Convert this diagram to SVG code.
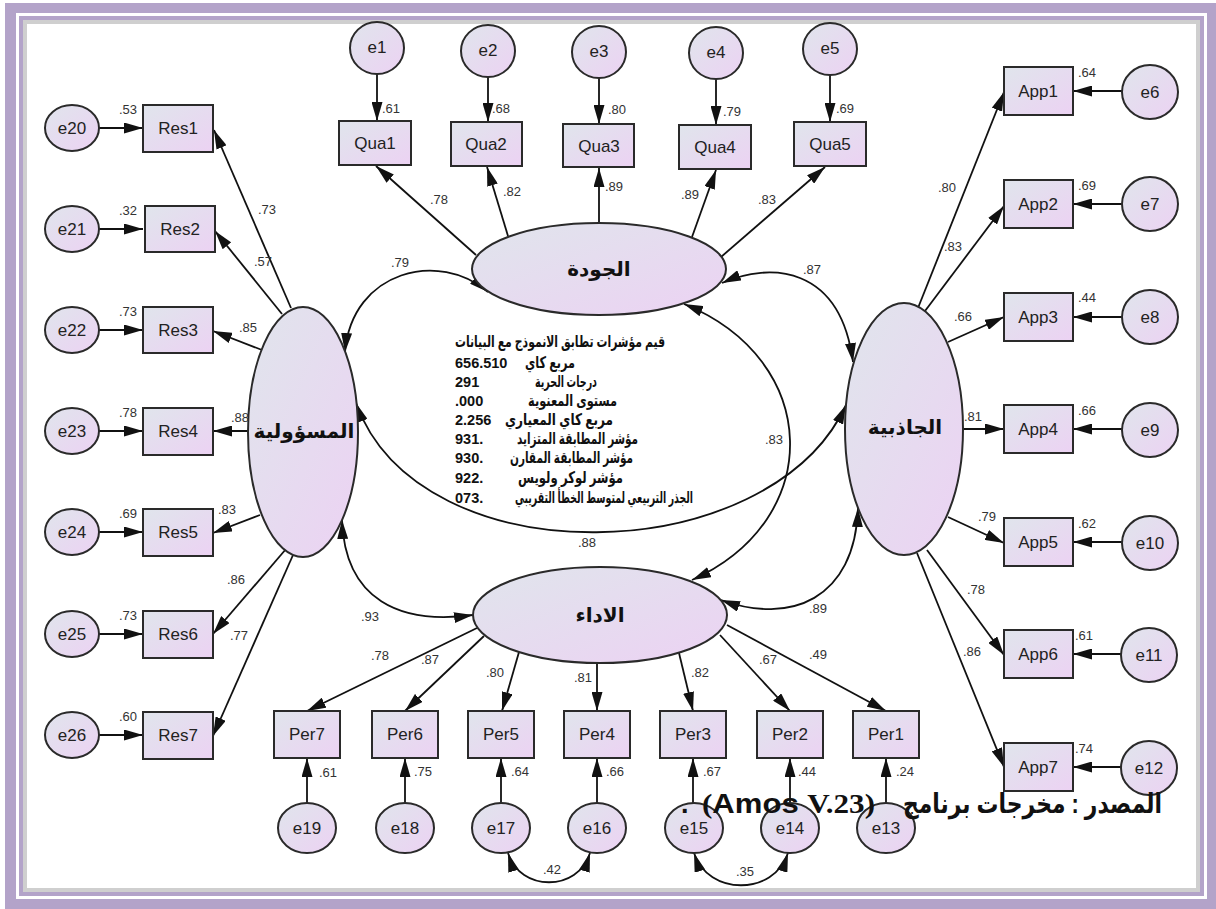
<svg xmlns="http://www.w3.org/2000/svg" width="1216" height="909" viewBox="0 0 1216 909">
<defs>
<linearGradient id="g" x1="0" y1="0" x2="1" y2="1">
<stop offset="0" stop-color="#e0e5ec"/>
<stop offset="1" stop-color="#ecd2f3"/>
</linearGradient>
<marker id="ah" viewBox="0 0 19 11" refX="19" refY="5.5" markerWidth="19" markerHeight="11" markerUnits="userSpaceOnUse" orient="auto-start-reverse">
<path d="M0,0 L19,5.5 L0,11 z" fill="#111"/>
</marker>
<style>
.n{fill:url(#g);stroke:#2a2a2a;stroke-width:2}
.t{font-family:"Liberation Sans",Arial,sans-serif;font-size:17px;fill:#222;text-anchor:middle;dominant-baseline:central}
.v{font-family:"Liberation Sans",Arial,sans-serif;font-size:13px;fill:#333;text-anchor:middle}
.l{fill:none;stroke:#111;stroke-width:1.8;marker-end:url(#ah)}
.c{fill:none;stroke:#111;stroke-width:1.8;marker-start:url(#ah);marker-end:url(#ah)}
.ar{font-family:"Liberation Sans","DejaVu Sans",sans-serif;font-weight:bold;fill:#111}
.fi{font-family:"Liberation Sans","DejaVu Sans",sans-serif;font-weight:bold;fill:#111;font-size:16px}
.num{font-family:"Liberation Sans",Arial,sans-serif;font-weight:bold;font-size:14.5px;fill:#111}
</style>
</defs>

<!-- frame -->
<g id="frame">
<rect x="0" y="0" width="1216" height="909" fill="#ffffff"/>
<rect x="5" y="3" width="1211" height="906" fill="#b3a3c9"/>
<rect x="16" y="13" width="1191" height="886" fill="#ffffff"/>
<rect x="19" y="16" width="1185" height="880" fill="#b3a3c9"/>
<rect x="23" y="20" width="1177" height="872" fill="#ffffff"/>
<rect x="25" y="22" width="1173" height="868" fill="none" stroke="#cfcfcf" stroke-width="4"/>
</g>

<!-- connectors -->
<g id="connectors">
<!-- quality -->
<line class="l" x1="377" y1="74" x2="377" y2="121"/>
<line class="l" x1="488" y1="77" x2="488" y2="122"/>
<line class="l" x1="599" y1="78" x2="599" y2="124"/>
<line class="l" x1="716" y1="79" x2="716" y2="125"/>
<line class="l" x1="830" y1="75" x2="830" y2="122"/>
<line class="l" x1="476" y1="255" x2="376" y2="166"/>
<line class="l" x1="508" y1="236" x2="487" y2="167"/>
<line class="l" x1="599" y1="223" x2="599" y2="168"/>
<line class="l" x1="692" y1="237" x2="716" y2="170"/>
<line class="l" x1="721" y1="257" x2="825" y2="167"/>
<!-- responsibility -->
<line class="l" x1="99" y1="128" x2="143" y2="128"/>
<line class="l" x1="99" y1="229" x2="143" y2="229"/>
<line class="l" x1="99" y1="330" x2="143" y2="330"/>
<line class="l" x1="99" y1="431" x2="143" y2="431"/>
<line class="l" x1="99" y1="532" x2="143" y2="532"/>
<line class="l" x1="99" y1="634" x2="143" y2="634"/>
<line class="l" x1="99" y1="735" x2="143" y2="735"/>
<line class="l" x1="291" y1="308" x2="214" y2="130"/>
<line class="l" x1="282" y1="314" x2="215" y2="231"/>
<line class="l" x1="262" y1="350" x2="213" y2="331"/>
<line class="l" x1="248" y1="431" x2="213" y2="431"/>
<line class="l" x1="260" y1="515" x2="213" y2="533"/>
<line class="l" x1="286" y1="549" x2="213" y2="634"/>
<line class="l" x1="293" y1="555" x2="213" y2="736"/>
<!-- appeal -->
<line class="l" x1="1122" y1="91" x2="1073" y2="91"/>
<line class="l" x1="1122" y1="204" x2="1073" y2="204"/>
<line class="l" x1="1122" y1="317" x2="1073" y2="317"/>
<line class="l" x1="1122" y1="429" x2="1073" y2="429"/>
<line class="l" x1="1122" y1="542" x2="1073" y2="542"/>
<line class="l" x1="1121" y1="654" x2="1073" y2="654"/>
<line class="l" x1="1121" y1="767" x2="1073" y2="767"/>
<line class="l" x1="918" y1="308" x2="1004" y2="92"/>
<line class="l" x1="925" y1="311" x2="1004" y2="206"/>
<line class="l" x1="948" y1="342" x2="1004" y2="317"/>
<line class="l" x1="963" y1="429" x2="1004" y2="429"/>
<line class="l" x1="948" y1="517" x2="1004" y2="543"/>
<line class="l" x1="927" y1="550" x2="1004" y2="655"/>
<line class="l" x1="917" y1="553" x2="1004" y2="767"/>
<!-- performance -->
<line class="l" x1="307" y1="803" x2="307" y2="758"/>
<line class="l" x1="405" y1="803" x2="405" y2="758"/>
<line class="l" x1="501" y1="803" x2="501" y2="758"/>
<line class="l" x1="597" y1="803" x2="597" y2="758"/>
<line class="l" x1="693" y1="803" x2="693" y2="758"/>
<line class="l" x1="790" y1="803" x2="790" y2="758"/>
<line class="l" x1="886" y1="803" x2="886" y2="758"/>
<line class="l" x1="477" y1="628" x2="307" y2="711"/>
<line class="l" x1="484" y1="636" x2="405" y2="711"/>
<line class="l" x1="519" y1="652" x2="502" y2="711"/>
<line class="l" x1="597" y1="663" x2="597" y2="711"/>
<line class="l" x1="679" y1="653" x2="693" y2="711"/>
<line class="l" x1="720" y1="635" x2="790" y2="711"/>
<line class="l" x1="727" y1="625" x2="886" y2="711"/>
<!-- covariances -->
<path class="c" d="M345,352 C352,270 440,250 488,292"/>
<path class="c" d="M722,283 C770,262 840,265 853,362"/>
<path class="c" d="M684,304 C822,360 826,520 692,580"/>
<path class="c" d="M356,403 C420,580 770,570 846,405"/>
<path class="c" d="M342,520 C345,600 400,625 473,615"/>
<path class="c" d="M721,600 C790,625 855,600 858,508"/>
<path class="c" d="M508,853 C520,892 578,892 590,853"/>
<path class="c" d="M694,853 C708,896 774,896 788,853"/>
</g>

<!-- latent variables -->
<g id="Quality"><ellipse class="n" cx="599" cy="269" rx="127" ry="46"/><text class="ar" x="599" y="276" font-size="20" text-anchor="middle">الجودة</text></g>
<g id="Responsibility"><ellipse class="n" cx="303" cy="432" rx="55" ry="125"/><text class="ar" x="304" y="438" font-size="20" text-anchor="middle">المسؤولية</text></g>
<g id="Appeal"><ellipse class="n" cx="904" cy="429" rx="59" ry="126"/><text class="ar" x="905" y="434" font-size="20" text-anchor="middle">الجاذبية</text></g>
<g id="Performance"><ellipse class="n" cx="600" cy="615" rx="127" ry="48"/><text class="ar" x="600" y="622" font-size="20" text-anchor="middle">الاداء</text></g>

<!-- quality indicators -->
<g id="Qua1"><rect class="n" x="339" y="121" width="72" height="44"/><text class="t" x="375" y="143">Qua1</text></g>
<g id="Qua2"><rect class="n" x="451" y="122" width="71" height="44"/><text class="t" x="486" y="144">Qua2</text></g>
<g id="Qua3"><rect class="n" x="563" y="124" width="71" height="43"/><text class="t" x="599" y="146">Qua3</text></g>
<g id="Qua4"><rect class="n" x="679" y="125" width="72" height="44"/><text class="t" x="715" y="147">Qua4</text></g>
<g id="Qua5"><rect class="n" x="794" y="122" width="72" height="44"/><text class="t" x="830" y="144">Qua5</text></g>
<g id="e1"><ellipse class="n" cx="377" cy="48" rx="27" ry="26"/><text class="t" x="377" y="47">e1</text></g>
<g id="e2"><ellipse class="n" cx="488" cy="51" rx="27" ry="26"/><text class="t" x="488" y="50">e2</text></g>
<g id="e3"><ellipse class="n" cx="599" cy="52" rx="27" ry="26"/><text class="t" x="599" y="51">e3</text></g>
<g id="e4"><ellipse class="n" cx="716" cy="53" rx="27" ry="26"/><text class="t" x="716" y="52">e4</text></g>
<g id="e5"><ellipse class="n" cx="830" cy="49" rx="27" ry="26"/><text class="t" x="830" y="48">e5</text></g>

<!-- responsibility indicators -->
<g id="Res1"><rect class="n" x="143" y="105" width="70" height="47"/><text class="t" x="178" y="128">Res1</text></g>
<g id="Res2"><rect class="n" x="145" y="206" width="70" height="46"/><text class="t" x="180" y="229">Res2</text></g>
<g id="Res3"><rect class="n" x="143" y="307" width="70" height="46"/><text class="t" x="178" y="330">Res3</text></g>
<g id="Res4"><rect class="n" x="143" y="408" width="70" height="47"/><text class="t" x="178" y="431">Res4</text></g>
<g id="Res5"><rect class="n" x="143" y="509" width="70" height="47"/><text class="t" x="178" y="532">Res5</text></g>
<g id="Res6"><rect class="n" x="143" y="611" width="70" height="47"/><text class="t" x="178" y="634">Res6</text></g>
<g id="Res7"><rect class="n" x="143" y="712" width="70" height="47"/><text class="t" x="178" y="735">Res7</text></g>
<g id="e20"><ellipse class="n" cx="72" cy="128" rx="27" ry="23"/><text class="t" x="72" y="128">e20</text></g>
<g id="e21"><ellipse class="n" cx="72" cy="229" rx="27" ry="23"/><text class="t" x="72" y="229">e21</text></g>
<g id="e22"><ellipse class="n" cx="72" cy="330" rx="27" ry="23"/><text class="t" x="72" y="330">e22</text></g>
<g id="e23"><ellipse class="n" cx="72" cy="431" rx="27" ry="23"/><text class="t" x="72" y="431">e23</text></g>
<g id="e24"><ellipse class="n" cx="72" cy="532" rx="27" ry="23"/><text class="t" x="72" y="532">e24</text></g>
<g id="e25"><ellipse class="n" cx="72" cy="634" rx="27" ry="23"/><text class="t" x="72" y="634">e25</text></g>
<g id="e26"><ellipse class="n" cx="72" cy="735" rx="27" ry="23"/><text class="t" x="72" y="735">e26</text></g>

<!-- appeal indicators -->
<g id="App1"><rect class="n" x="1004" y="67" width="69" height="48"/><text class="t" x="1038" y="91">App1</text></g>
<g id="App2"><rect class="n" x="1004" y="180" width="69" height="48"/><text class="t" x="1038" y="204">App2</text></g>
<g id="App3"><rect class="n" x="1004" y="293" width="69" height="48"/><text class="t" x="1038" y="317">App3</text></g>
<g id="App4"><rect class="n" x="1004" y="405" width="69" height="48"/><text class="t" x="1038" y="429">App4</text></g>
<g id="App5"><rect class="n" x="1004" y="518" width="69" height="48"/><text class="t" x="1038" y="542">App5</text></g>
<g id="App6"><rect class="n" x="1004" y="630" width="69" height="48"/><text class="t" x="1038" y="654">App6</text></g>
<g id="App7"><rect class="n" x="1004" y="743" width="69" height="48"/><text class="t" x="1038" y="767">App7</text></g>
<g id="e6"><ellipse class="n" cx="1150" cy="92" rx="28" ry="27"/><text class="t" x="1150" y="92">e6</text></g>
<g id="e7"><ellipse class="n" cx="1150" cy="204" rx="28" ry="27"/><text class="t" x="1150" y="204">e7</text></g>
<g id="e8"><ellipse class="n" cx="1150" cy="317" rx="28" ry="27"/><text class="t" x="1150" y="317">e8</text></g>
<g id="e9"><ellipse class="n" cx="1150" cy="430" rx="28" ry="27"/><text class="t" x="1150" y="430">e9</text></g>
<g id="e10"><ellipse class="n" cx="1150" cy="543" rx="28" ry="27"/><text class="t" x="1150" y="543">e10</text></g>
<g id="e11"><ellipse class="n" cx="1149" cy="655" rx="28" ry="27"/><text class="t" x="1149" y="655">e11</text></g>
<g id="e12"><ellipse class="n" cx="1149" cy="768" rx="28" ry="27"/><text class="t" x="1149" y="768">e12</text></g>

<!-- performance indicators -->
<g id="Per7"><rect class="n" x="274" y="711" width="66" height="47"/><text class="t" x="307" y="734">Per7</text></g>
<g id="Per6"><rect class="n" x="372" y="711" width="66" height="47"/><text class="t" x="405" y="734">Per6</text></g>
<g id="Per5"><rect class="n" x="468" y="711" width="66" height="47"/><text class="t" x="501" y="734">Per5</text></g>
<g id="Per4"><rect class="n" x="564" y="711" width="66" height="47"/><text class="t" x="597" y="734">Per4</text></g>
<g id="Per3"><rect class="n" x="660" y="711" width="66" height="47"/><text class="t" x="693" y="734">Per3</text></g>
<g id="Per2"><rect class="n" x="757" y="711" width="66" height="47"/><text class="t" x="790" y="734">Per2</text></g>
<g id="Per1"><rect class="n" x="853" y="711" width="66" height="47"/><text class="t" x="886" y="734">Per1</text></g>
<g id="e19"><ellipse class="n" cx="307" cy="828" rx="29" ry="25"/><text class="t" x="307" y="828">e19</text></g>
<g id="e18"><ellipse class="n" cx="405" cy="828" rx="29" ry="25"/><text class="t" x="405" y="828">e18</text></g>
<g id="e17"><ellipse class="n" cx="501" cy="828" rx="29" ry="25"/><text class="t" x="501" y="828">e17</text></g>
<g id="e16"><ellipse class="n" cx="597" cy="828" rx="29" ry="25"/><text class="t" x="597" y="828">e16</text></g>
<g id="e15"><ellipse class="n" cx="694" cy="828" rx="29" ry="25"/><text class="t" x="694" y="828">e15</text></g>
<g id="e14"><ellipse class="n" cx="790" cy="828" rx="29" ry="25"/><text class="t" x="790" y="828">e14</text></g>
<g id="e13"><ellipse class="n" cx="886" cy="828" rx="29" ry="25"/><text class="t" x="886" y="828">e13</text></g>

<!-- estimates -->
<g id="estimates">
<text class="v" x="391" y="113">.61</text>
<text class="v" x="501" y="113">.68</text>
<text class="v" x="617" y="114">.80</text>
<text class="v" x="732" y="116">.79</text>
<text class="v" x="845" y="113">.69</text>
<text class="v" x="439" y="204">.78</text>
<text class="v" x="512" y="196">.82</text>
<text class="v" x="614" y="191">.89</text>
<text class="v" x="690" y="199">.89</text>
<text class="v" x="767" y="204">.83</text>
<text class="v" x="400" y="267">.79</text>
<text class="v" x="812" y="274">.87</text>
<text class="v" x="774" y="444">.83</text>
<text class="v" x="587" y="547">.88</text>
<text class="v" x="370" y="621">.93</text>
<text class="v" x="818" y="613">.89</text>
<text class="v" x="552" y="874">.42</text>
<text class="v" x="745" y="876">.35</text>
<text class="v" x="267" y="214">.73</text>
<text class="v" x="263" y="266">.57</text>
<text class="v" x="248" y="332">.85</text>
<text class="v" x="240" y="422">.88</text>
<text class="v" x="227" y="514">.83</text>
<text class="v" x="236" y="584">.86</text>
<text class="v" x="239" y="640">.77</text>
<text class="v" x="128" y="114">.53</text>
<text class="v" x="128" y="215">.32</text>
<text class="v" x="128" y="316">.73</text>
<text class="v" x="128" y="417">.78</text>
<text class="v" x="128" y="518">.69</text>
<text class="v" x="128" y="620">.73</text>
<text class="v" x="128" y="721">.60</text>
<text class="v" x="947" y="192">.80</text>
<text class="v" x="953" y="251">.83</text>
<text class="v" x="963" y="321">.66</text>
<text class="v" x="973" y="421">.81</text>
<text class="v" x="987" y="521">.79</text>
<text class="v" x="976" y="594">.78</text>
<text class="v" x="972" y="656">.86</text>
<text class="v" x="1087" y="77">.64</text>
<text class="v" x="1087" y="190">.69</text>
<text class="v" x="1087" y="302">.44</text>
<text class="v" x="1087" y="415">.66</text>
<text class="v" x="1087" y="528">.62</text>
<text class="v" x="1084" y="640">.61</text>
<text class="v" x="1084" y="753">.74</text>
<text class="v" x="380" y="660">.78</text>
<text class="v" x="430" y="664">.87</text>
<text class="v" x="495" y="677">.80</text>
<text class="v" x="583" y="682">.81</text>
<text class="v" x="700" y="677">.82</text>
<text class="v" x="768" y="664">.67</text>
<text class="v" x="818" y="659">.49</text>
<text class="v" x="328" y="777">.61</text>
<text class="v" x="423" y="776">.75</text>
<text class="v" x="520" y="776">.64</text>
<text class="v" x="615" y="776">.66</text>
<text class="v" x="712" y="776">.67</text>
<text class="v" x="807" y="776">.44</text>
<text class="v" x="905" y="776">.24</text>
</g>

<!-- fit indices -->
<g id="fit">
<text class="fi" x="455" y="347" textLength="210" lengthAdjust="spacingAndGlyphs">قيم مؤشرات تطابق الانموذج مع البيانات</text>
<text class="num" x="455" y="368">656.510</text>
<text class="fi" x="525" y="368" textLength="50" lengthAdjust="spacingAndGlyphs">مربع كاي</text>
<text class="num" x="455" y="387">291</text>
<text class="fi" x="535" y="387" textLength="62" lengthAdjust="spacingAndGlyphs">درجات الحرية</text>
<text class="num" x="455" y="406">.000</text>
<text class="fi" x="528" y="406" textLength="89" lengthAdjust="spacingAndGlyphs">مستوى المعنوية</text>
<text class="num" x="455" y="425">2.256</text>
<text class="fi" x="505" y="425" textLength="108" lengthAdjust="spacingAndGlyphs">مربع كاي المعياري</text>
<text class="num" x="455" y="444">931.</text>
<text class="fi" x="517" y="444" textLength="121" lengthAdjust="spacingAndGlyphs">مؤشر المطابقة المتزايد</text>
<text class="num" x="455" y="463">930.</text>
<text class="fi" x="510" y="463" textLength="123" lengthAdjust="spacingAndGlyphs">مؤشر المطابقة المقارن</text>
<text class="num" x="455" y="483">922.</text>
<text class="fi" x="518" y="483" textLength="105" lengthAdjust="spacingAndGlyphs">مؤشر لوكر ولويس</text>
<text class="num" x="455" y="503">073.</text>
<text class="fi" x="515" y="503" textLength="178" lengthAdjust="spacingAndGlyphs">الجذر التربيعي لمتوسط الخطأ التقريبي</text>
</g>

<!-- source caption -->
<g id="caption">
<text class="ar" x="681" y="813" font-size="27">.</text>
<text class="ar" x="702" y="813" font-size="27" textLength="173" lengthAdjust="spacingAndGlyphs"><tspan font-family="Liberation Serif,serif">(</tspan>Amos <tspan font-family="Liberation Serif,serif">V.23)</tspan></text>
<text class="ar" x="903" y="813" font-size="27" textLength="259" lengthAdjust="spacingAndGlyphs">المصدر : مخرجات برنامج</text>
</g>
</svg>
